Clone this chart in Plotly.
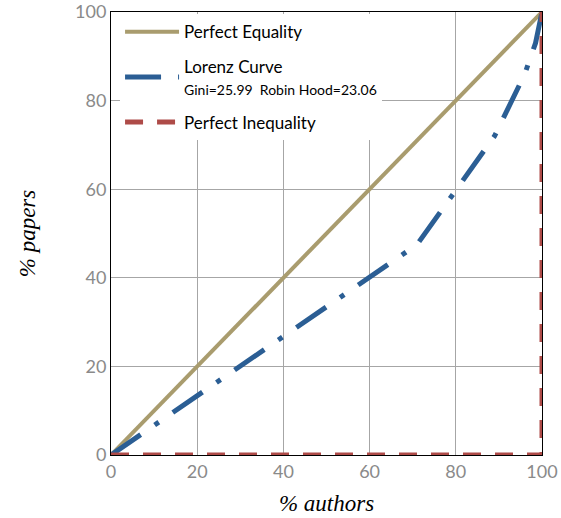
import plotly.graph_objects as go

eq_x = [0, 100]
eq_y = [0, 100]
lorenz_x = [0, 71, 89, 96, 98.5, 100]
lorenz_y = [0, 47.5, 72, 86, 93, 100]
ineq_x = [0, 100, 100]
ineq_y = [0, 0, 100]
x_ticks = [0, 20, 40, 60, 80, 100]
y_ticks = [0, 20, 40, 60, 80, 100]

TAN = "#A99C6E"
BLUE = "#2B5E94"
RED = "#AE4B48"

fig = go.Figure()
fig.add_trace(go.Scatter(x=eq_x, y=eq_y, mode="lines", name="Perfect Equality",
                         legendgroup="a", line=dict(color=TAN, width=4)))
fig.add_trace(go.Scatter(x=lorenz_x, y=lorenz_y, mode="lines",
                         name="Lorenz Curve<br><span style='font-size:14px'>Gini=25.99  Robin Hood=23.06</span>",
                         legendgroup="b",
                         line=dict(color=BLUE, width=5, dash="36px,17px,5px,17px")))
fig.add_trace(go.Scatter(x=ineq_x, y=ineq_y, mode="lines", name="Perfect Inequality",
                         legendgroup="c", line=dict(color=RED, width=5, dash="18px,14px")))

axis_common = dict(
    range=[0, 100], showgrid=True, gridcolor="#A6A6A6", gridwidth=1,
    showline=True, linecolor="black", linewidth=1, mirror=True,
    zeroline=False, ticks="", automargin=False,
    tickfont=dict(family="Lato", size=18, color="#8A8A8A"),
)
fig.update_xaxes(tickvals=x_ticks, ticktext=[str(v) for v in x_ticks],
                 title=dict(text="% authors", font=dict(family="Liberation Serif", size=23, color="black", style="italic"), standoff=14),
                 **axis_common)
fig.update_yaxes(tickvals=y_ticks, ticktext=[str(v) for v in y_ticks],
                 title=dict(text="% papers", font=dict(family="Liberation Serif", size=23, color="black", style="italic"), standoff=33),
                 **axis_common)

fig.update_layout(
    width=561, height=518,
    margin=dict(l=111, r=19, t=12, b=63),
    plot_bgcolor="white", paper_bgcolor="white",
    showlegend=True,
    legend=dict(x=0.021, y=0.995, xanchor="left", yanchor="top",
                bgcolor="white", borderwidth=0,
                font=dict(family="Lato", size=17, color="black"),
                itemwidth=54, tracegroupgap=9, traceorder="grouped"),
)

fig.write_html("out.html", config={"displayModeBar": False},
               post_script="document.body.style.margin='0';")
